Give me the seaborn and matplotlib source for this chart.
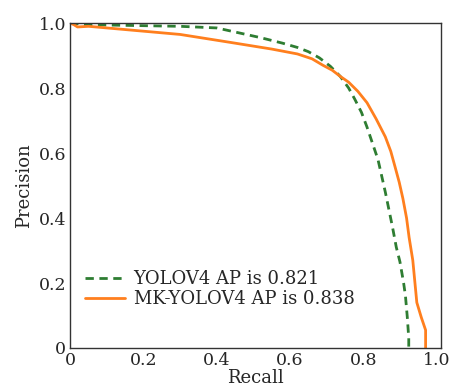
import numpy as np
import pandas as pd
import seaborn as sns
import matplotlib.pyplot as plt

# PR curve points
yolo_recall = [0.0, 0.05, 0.15, 0.30, 0.40, 0.44, 0.52, 0.58, 0.62, 0.65, 0.68, 0.71, 0.737, 0.76, 0.777, 0.795, 0.81, 0.825, 0.84, 0.86, 0.88, 0.89, 0.90, 0.91, 0.915, 0.92, 0.924, 0.924]
yolo_precision = [1.0, 0.995, 0.993, 0.99, 0.985, 0.975, 0.955, 0.938, 0.925, 0.912, 0.893, 0.867, 0.836, 0.80, 0.765, 0.725, 0.68, 0.63, 0.58, 0.48, 0.37, 0.31, 0.265, 0.20, 0.16, 0.095, 0.03, 0.0]

mk_recall = [0.0, 0.01, 0.02, 0.05, 0.15, 0.30, 0.44, 0.55, 0.62, 0.66, 0.69, 0.715, 0.737, 0.76, 0.785, 0.81, 0.835, 0.86, 0.875, 0.886, 0.898, 0.908, 0.918, 0.925, 0.935, 0.946, 0.958, 0.97, 0.97]
mk_precision = [1.0, 0.995, 0.988, 0.99, 0.98, 0.965, 0.94, 0.92, 0.905, 0.89, 0.87, 0.855, 0.836, 0.818, 0.79, 0.755, 0.705, 0.65, 0.605, 0.56, 0.51, 0.46, 0.40, 0.34, 0.27, 0.14, 0.095, 0.055, 0.0]

labels = ["YOLOV4 AP is 0.821", "MK-YOLOV4 AP is 0.838"]

df = pd.concat([
    pd.DataFrame({"Recall": yolo_recall, "Precision": yolo_precision, "model": labels[0]}),
    pd.DataFrame({"Recall": mk_recall, "Precision": mk_precision, "model": labels[1]}),
])

sns.set_style("white")
plt.rcParams["font.family"] = ["DejaVu Serif"]

fig = plt.figure(figsize=(4.5, 3.91), dpi=100)
ax = fig.add_axes([0.156, 0.110, 0.824, 0.831])
sns.lineplot(data=df, x="Recall", y="Precision", hue="model", style="model",
             palette={labels[0]: "#2e7d32", labels[1]: "#ff7f1e"},
             dashes={labels[0]: (3, 2), labels[1]: ""},
             sort=False, estimator=None, linewidth=2, ax=ax)

ax.set_xlim(0, 1.012)
ax.set_ylim(0, 1.0)
ax.set_xticks([0, 0.2, 0.4, 0.6, 0.8, 1.0])
ax.set_xticklabels(["0", "0.2", "0.4", "0.6", "0.8", "1.0"])
ax.set_yticks([0, 0.2, 0.4, 0.6, 0.8, 1.0])
ax.set_yticklabels(["0", "0.2", "0.4", "0.6", "0.8", "1.0"])
ax.tick_params(direction="in", length=3, labelsize=12.5, pad=3, color="#333333")
ax.set_xlabel("Recall", fontsize=13, labelpad=0)
ax.set_ylabel("Precision", fontsize=13, labelpad=4)
for s in ax.spines.values():
    s.set_color("#333333")
    s.set_linewidth(1.0)

ax.legend(loc="lower left", bbox_to_anchor=(0.02, 0.1), frameon=False, fontsize=13,
          handlelength=2.2, handletextpad=0.5, labelspacing=0.1, borderaxespad=0)

fig.savefig("out.png", dpi=100)
